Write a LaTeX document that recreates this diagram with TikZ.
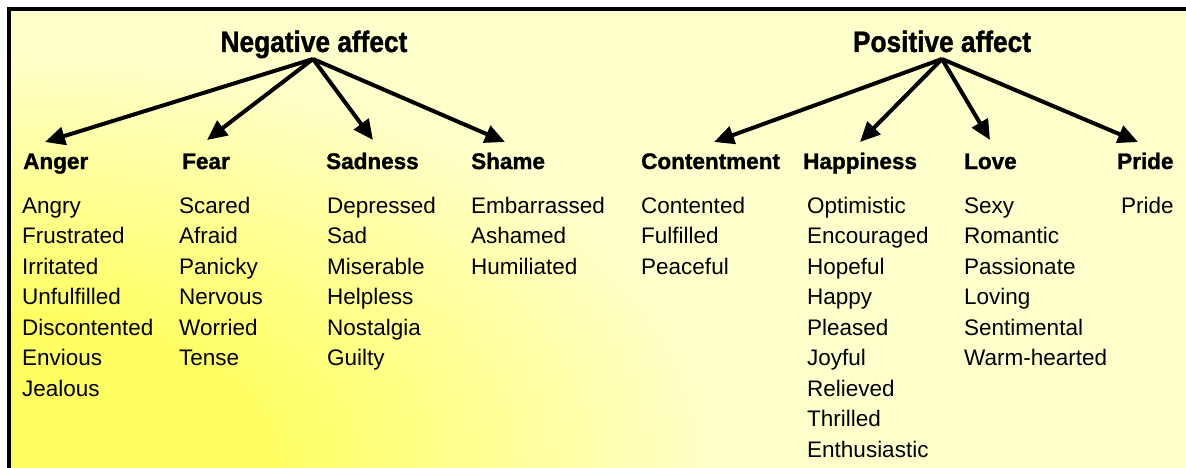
\documentclass[tikz,border=0pt]{standalone}
\usepackage{fontspec}
\setmainfont{Liberation Sans}
\newfontfamily\heavy{Liberation Sans}[BoldFeatures={FakeBold=1.3}]
\usetikzlibrary{arrows.meta}
\definecolor{yDeep}{HTML}{FFFF62}
\definecolor{yPale}{HTML}{FFFFCC}
\pgfdeclareradialshading{cornerglow}{\pgfpoint{0bp}{0bp}}{color(0bp)=(yDeep); color(9bp)=(yDeep); color(25bp)=(yPale); color(50bp)=(yPale)}
\begin{document}
\begin{tikzpicture}[x=1pt,y=-1pt,
  title/.style={inner sep=0pt, anchor=base, font=\fontsize{29.5}{30}\heavy\bfseries},
  cat/.style={inner sep=0pt, anchor=base west, font=\fontsize{22.5}{24}\heavy\bfseries},
  item/.style={inner sep=0pt, anchor=base west, font=\fontsize{22.5}{24}\selectfont},
  link/.style={line width=4pt, -{Triangle[length=20pt,width=18pt]}}]
\useasboundingbox (0,0) rectangle (1186,468);
\fill[yPale] (9,9) rectangle (1190,472);
\begin{scope}
  \clip (9,9) rectangle (1190,472);
  \shade[shading=cornerglow] (-711,48) rectangle (729,888);
\end{scope}
\draw[line width=3.5pt] (9,480) -- (9,9) -- (1200,9);

% titles
\node[title] (neg) at (314,52) {\scalebox{0.89}[1]{Negative affect}};
\node[title] (pos) at (942,52) {\scalebox{0.89}[1]{Positive affect}};
\coordinate (negtop) at (313,59);
\coordinate (postop) at (942,59);

% categories
\node[cat] (anger) at (23,169) {Anger};
\node[cat] (fear) at (182,169) {Fear};
\node[cat] (sadness) at (326,169) {Sadness};
\node[cat] (shame) at (471,169) {Shame};
\node[cat] (content) at (641,169) {Contentment};
\node[cat] (happy) at (803,169) {Happiness};
\node[cat] (love) at (964,169) {Love};
\node[cat] (pride) at (1117,169) {Pride};

% arrow tips
\coordinate (angertip) at (45,142);
\coordinate (feartip) at (207,140);
\coordinate (sadtip) at (373,140);
\coordinate (shametip) at (505,142);
\coordinate (contenttip) at (714,142);
\coordinate (happytip) at (860,142);
\coordinate (lovetip) at (990,140);
\coordinate (pridetip) at (1138,142);

\draw[link] (negtop) -- (angertip);
\draw[link] (negtop) -- (feartip);
\draw[link] (negtop) -- (sadtip);
\draw[link] (negtop) -- (shametip);
\draw[link] (postop) -- (contenttip);
\draw[link] (postop) -- (happytip);
\draw[link] (postop) -- (lovetip);
\draw[link] (postop) -- (pridetip);

% items
\foreach \t [count=\i from 0] in {Angry,Frustrated,Irritated,Unfulfilled,Discontented,Envious,Jealous}
  \node[item] (anger-\i) at (22,213+30.5*\i) {\t};
\foreach \t [count=\i from 0] in {Scared,Afraid,Panicky,Nervous,Worried,Tense}
  \node[item] (fear-\i) at (179,213+30.5*\i) {\t};
\foreach \t [count=\i from 0] in {Depressed,Sad,Miserable,Helpless,Nostalgia,Guilty}
  \node[item] (sadness-\i) at (327,213+30.5*\i) {\t};
\foreach \t [count=\i from 0] in {Embarrassed,Ashamed,Humiliated}
  \node[item] (shame-\i) at (471,213+30.5*\i) {\t};
\foreach \t [count=\i from 0] in {Contented,Fulfilled,Peaceful}
  \node[item] (content-\i) at (641,213+30.5*\i) {\t};
\foreach \t [count=\i from 0] in {Optimistic,Encouraged,Hopeful,Happy,Pleased,Joyful,Relieved,Thrilled,Enthusiastic}
  \node[item] (happy-\i) at (807,213+30.5*\i) {\t};
\foreach \t [count=\i from 0] in {Sexy,Romantic,Passionate,Loving,Sentimental,Warm-hearted}
  \node[item] (love-\i) at (964,213+30.5*\i) {\t};
\node[item] (pride-0) at (1121,213) {Pride};
\end{tikzpicture}
\end{document}
